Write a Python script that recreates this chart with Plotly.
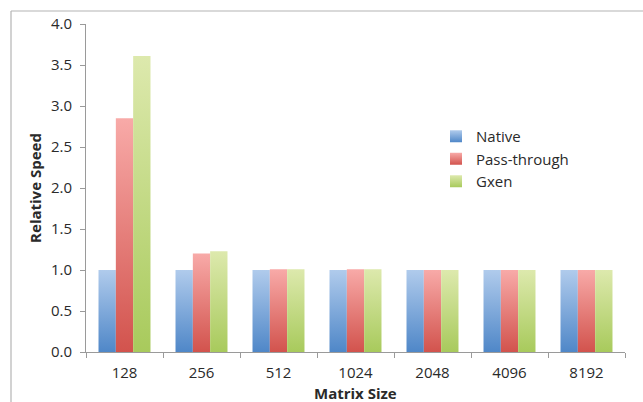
import plotly.graph_objects as go

# Matrix sizes on the x axis and relative speed per configuration
sizes = ["128", "256", "512", "1024", "2048", "4096", "8192"]
native = [1.0, 1.0, 1.0, 1.0, 1.0, 1.0, 1.0]
pass_through = [2.85, 1.2, 1.01, 1.01, 1.0, 1.0, 1.0]
gxen = [3.61, 1.23, 1.01, 1.01, 1.0, 1.0, 1.0]

series_names = ["Native", "Pass-through", "Gxen"]
series_values = [native, pass_through, gxen]
# (mid colour, light top, dark bottom) for each series
series_colors = [
    ("#7fa7da", "#b0cbec", "#4f87c8"),
    ("#e8847f", "#f8aaa8", "#d2534d"),
    ("#c5dc88", "#dde9ad", "#a8ca5c"),
]

W, H = 643, 402
L, R, T, B = 86, 18, 24, 50
pw, ph = W - L - R, H - T - B


def px_x(v):
    return (v - L) / pw


def px_y(v):
    return (H - B - v) / ph


fig = go.Figure()
for name, vals, cols in zip(series_names, series_values, series_colors):
    fig.add_trace(go.Bar(
        name=name, x=sizes, y=vals,
        marker=dict(color=cols[0], line=dict(width=0)),
    ))

font_family = "Open Sans, Liberation Sans, Arial, sans-serif"
text_color = "#2a2a2a"
axis_color = "#9a9a9a"
border = dict(color="#b4b4b4", width=1.2)

fig.update_layout(
    width=W, height=H,
    margin=dict(l=L, r=R, t=T, b=B, autoexpand=False),
    paper_bgcolor="white", plot_bgcolor="white",
    barmode="group", bargap=0.325, bargroupgap=0,
    font=dict(family=font_family, size=15, color=text_color),
    legend=dict(
        x=px_x(436), y=px_y(120),
        xanchor="left", yanchor="top",
        font=dict(size=15, color=text_color),
        bgcolor="rgba(0,0,0,0)",
        itemwidth=30,
    ),
    xaxis=dict(
        type="category", automargin=False,
        showline=True, linecolor=axis_color, linewidth=1,
        ticks="outside", tickson="boundaries", ticklen=5, tickcolor=axis_color,
        ticklabelstandoff=7,
        showgrid=False, zeroline=False,
    ),
    yaxis=dict(
        range=[0, 4], dtick=0.5, tickformat=".1f", automargin=False,
        showline=True, linecolor=axis_color, linewidth=1,
        ticks="outside", ticklen=5, tickcolor=axis_color,
        ticklabelstandoff=5,
        showgrid=False, zeroline=False,
        title=dict(text="<b>Relative Speed</b>", font=dict(size=15), standoff=5),
    ),
    # x-axis title placed close to the lower page edge
    annotations=[dict(
        text="<b>Matrix Size</b>", xref="paper", yref="paper",
        x=0.5, y=px_y(393), xanchor="center", yanchor="middle",
        showarrow=False, font=dict(size=15, color=text_color),
    )],
    shapes=[
        # outer frame: top and left edges
        dict(type="line", xref="paper", yref="paper",
             x0=px_x(11), x1=px_x(700), y0=px_y(11), y1=px_y(11),
             line=border, layer="below"),
        dict(type="line", xref="paper", yref="paper",
             x0=px_x(11), x1=px_x(11), y0=px_y(11), y1=px_y(450),
             line=border, layer="below"),
    ],
)

# Vertical light-to-dark gradient fills on bars and legend swatches
grad_js = """
var gd = document.getElementById('{plot_id}');
function applyGrad() {
  var cols = %s;
  var svg = gd.querySelector('svg.main-svg');
  var ns = 'http://www.w3.org/2000/svg';
  var defs = svg.querySelector('defs') || svg.insertBefore(document.createElementNS(ns, 'defs'), svg.firstChild);
  cols.forEach(function(c, i) {
    var g = document.createElementNS(ns, 'linearGradient');
    g.setAttribute('id', 'bargrad' + i);
    g.setAttribute('x1', '0'); g.setAttribute('y1', '0');
    g.setAttribute('x2', '0'); g.setAttribute('y2', '1');
    [[0, c[1]], [1, c[2]]].forEach(function(s) {
      var st = document.createElementNS(ns, 'stop');
      st.setAttribute('offset', s[0]);
      st.setAttribute('stop-color', s[1]);
      g.appendChild(st);
    });
    defs.appendChild(g);
  });
  gd.querySelectorAll('.barlayer .trace.bars').forEach(function(tr, i) {
    tr.querySelectorAll('path').forEach(function(p) { p.style.fill = 'url(#bargrad' + i + ')'; });
  });
  gd.querySelectorAll('.legend .traces').forEach(function(tr, i) {
    tr.querySelectorAll('.legendpoints path').forEach(function(p) { p.style.fill = 'url(#bargrad' + i + ')'; });
  });
}
applyGrad();
""" % str([list(c) for c in series_colors]).replace("'", '"')

fig.write_html("out.html", post_script=grad_js,
               config={"displayModeBar": False, "staticPlot": True})
